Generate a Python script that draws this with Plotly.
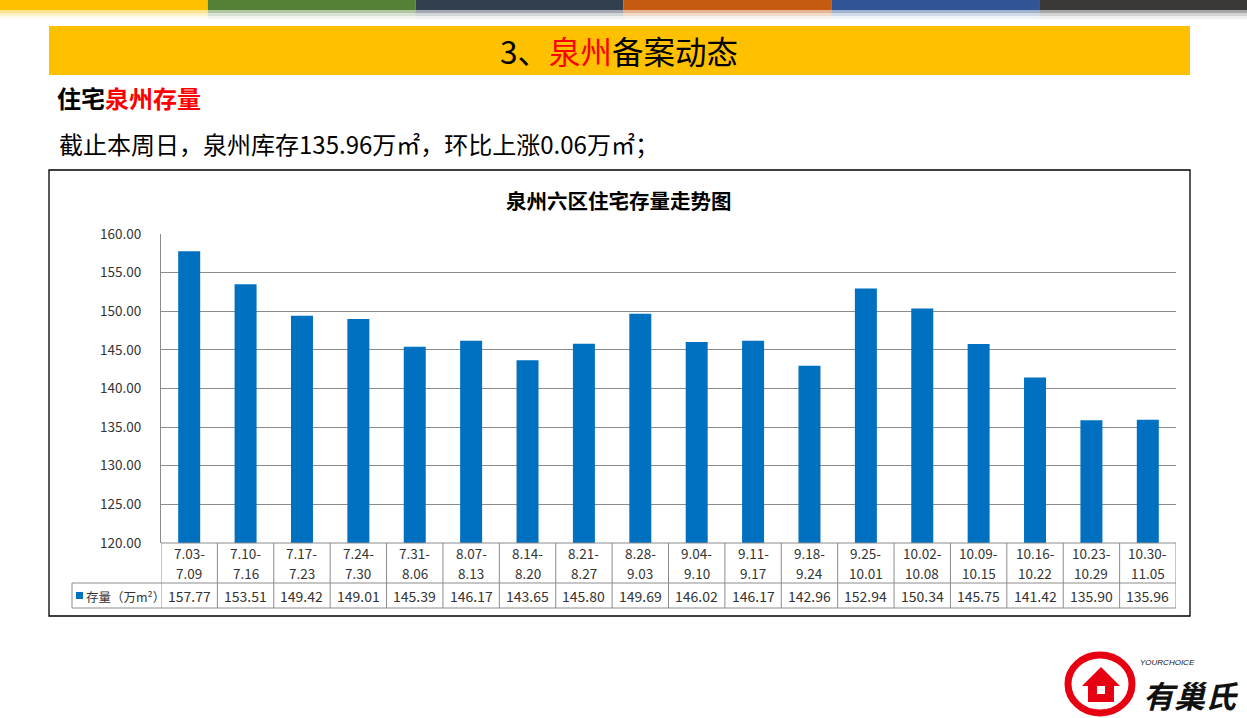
import plotly.graph_objects as go

W, H = 1247, 718

categories = ["7.03-7.09", "7.10-7.16", "7.17-7.23", "7.24-7.30", "7.31-8.06",
              "8.07-8.13", "8.14-8.20", "8.21-8.27", "8.28-9.03", "9.04-9.10",
              "9.11-9.17", "9.18-9.24", "9.25-10.01", "10.02-10.08", "10.09-10.15",
              "10.16-10.22", "10.23-10.29", "10.30-11.05"]
stock = [157.77, 153.51, 149.42, 149.01, 145.39, 146.17, 143.65, 145.80, 149.69, 146.02,
         146.17, 142.96, 152.94, 150.34, 145.75, 141.42, 135.90, 135.96]
y_ticks = [120, 125, 130, 135, 140, 145, 150, 155, 160]
strip_colors = ["#FFC000", "#538135", "#323F4F", "#C55A11", "#2F5597", "#3B3838"]

CJK = "Noto Sans CJK SC"
NUM = "Noto Sans CJK SC"


def px(x):
    return x / W


def py(y):
    return 1 - y / H


PL, PR, PT, PB = 161, 1176, 234, 543
ROW1, ROW2 = 583, 608
LEG_L = 72

fig = go.Figure()
fig.add_trace(go.Bar(
    x=list(range(len(categories))), y=stock,
    marker=dict(color="#0070C0", line=dict(width=0)),
    width=0.39, hoverinfo="y", showlegend=False,
))

shapes = []
annotations = []

# top strip
seg = W / len(strip_colors)
for i, c in enumerate(strip_colors):
    shapes.append(dict(type="rect", xref="paper", yref="paper", x0=px(i * seg), x1=px((i + 1) * seg),
                       y0=py(10), y1=py(0), fillcolor=c, line=dict(width=0), layer="above"))
    for a, b, op in [(10, 13, 0.45), (13, 16, 0.22), (16, 19, 0.08)]:
        shapes.append(dict(type="rect", xref="paper", yref="paper", x0=px(i * seg), x1=px((i + 1) * seg),
                           y0=py(b), y1=py(a), fillcolor=c, opacity=op, line=dict(width=0), layer="above"))

# yellow banner
shapes.append(dict(type="rect", xref="paper", yref="paper", x0=px(49), x1=px(1190), y0=py(75), y1=py(26),
                   fillcolor="#FFC000", line=dict(width=0), layer="below"))
annotations.append(dict(xref="paper", yref="paper", x=px(619), y=py(50), xanchor="center", yanchor="middle",
                        text="3、<span style='color:#FF0000'>泉州</span>备案动态", showarrow=False,
                        font=dict(family=CJK, size=31.5, color="#000000")))
annotations.append(dict(xref="paper", yref="paper", x=px(55), y=py(98), xanchor="left", yanchor="middle",
                        text="<b>住宅<span style='color:#FF0000'>泉州存量</span></b>", showarrow=False,
                        font=dict(family=CJK, size=24, color="#000000")))
annotations.append(dict(xref="paper", yref="paper", x=px(57), y=py(143), xanchor="left", yanchor="middle",
                        text="截止本周日，泉州库存135.96万㎡，环比上涨0.06万㎡；", showarrow=False,
                        font=dict(family=CJK, size=24, color="#000000")))

# chart box
shapes.append(dict(type="rect", xref="paper", yref="paper", x0=px(49), x1=px(1190), y0=py(616), y1=py(170),
                   line=dict(color="#000000", width=1.3), fillcolor="rgba(0,0,0,0)", layer="above"))
annotations.append(dict(xref="paper", yref="paper", x=px(619), y=py(200), xanchor="center", yanchor="middle",
                        text="<b>泉州六区住宅存量走势图</b>", showarrow=False,
                        font=dict(family=CJK, size=20.5, color="#000000")))

# table grid
GRID = "#8C8C8C"
n = len(categories)
shapes.append(dict(type="line", xref="paper", yref="paper", x0=px(PL), x1=px(PR), y0=py(PB), y1=py(PB),
                   line=dict(color=GRID, width=1), layer="above"))
for yy in (ROW1, ROW2):
    shapes.append(dict(type="line", xref="paper", yref="paper", x0=px(LEG_L), x1=px(PR), y0=py(yy), y1=py(yy),
                       line=dict(color=GRID, width=1), layer="above"))
shapes.append(dict(type="line", xref="paper", yref="paper", x0=px(LEG_L), x1=px(LEG_L), y0=py(ROW2), y1=py(ROW1),
                   line=dict(color=GRID, width=1), layer="above"))
for i in range(n + 1):
    shapes.append(dict(type="line", xref="x", yref="paper", x0=i - 0.5, x1=i - 0.5, y0=py(ROW2), y1=py(PB),
                       line=dict(color=GRID, width=1), layer="above"))
for i, (c, v) in enumerate(zip(categories, stock)):
    top, bottom = c.split("-")
    annotations.append(dict(xref="x", yref="paper", x=i, y=py(553), xanchor="center", yanchor="middle",
                            text=top + "-", showarrow=False, font=dict(family=NUM, size=13.5, color="#333333")))
    annotations.append(dict(xref="x", yref="paper", x=i, y=py(573), xanchor="center", yanchor="middle",
                            text=bottom, showarrow=False, font=dict(family=NUM, size=13.5, color="#333333")))
    annotations.append(dict(xref="x", yref="paper", x=i, y=py((ROW1 + ROW2) / 2), xanchor="center",
                            yanchor="middle", text=f"{v:.2f}", showarrow=False,
                            font=dict(family=NUM, size=14, color="#333333")))
# legend key in table
shapes.append(dict(type="rect", xref="paper", yref="paper", x0=px(76), x1=px(83), y0=py(599), y1=py(592),
                   fillcolor="#0070C0", line=dict(width=0), layer="above"))
annotations.append(dict(xref="paper", yref="paper", x=px(84), y=py(596), xanchor="left", yanchor="middle",
                        text="存量（万m²）", showarrow=False, font=dict(family=CJK, size=12.5, color="#333333")))

# logo
shapes.append(dict(type="circle", xref="paper", yref="paper", x0=px(1068), x1=px(1132), y0=py(713), y1=py(655),
                   line=dict(color="#E60012", width=7), fillcolor="rgba(0,0,0,0)", layer="above"))
shapes.append(dict(type="path", xref="paper", yref="paper",
                   path=f"M {px(1082)},{py(686)} L {px(1101)},{py(667)} L {px(1120)},{py(686)} "
                        f"L {px(1114)},{py(686)} L {px(1114)},{py(702)} L {px(1088)},{py(702)} "
                        f"L {px(1088)},{py(686)} Z",
                   fillcolor="#E60012", line=dict(width=0), layer="above"))
shapes.append(dict(type="rect", xref="paper", yref="paper", x0=px(1097), x1=px(1105), y0=py(694), y1=py(686),
                   fillcolor="#FFFFFF", line=dict(width=0), layer="above"))
annotations.append(dict(xref="paper", yref="paper", x=px(1241), y=py(694), xanchor="right", yanchor="middle",
                        text="<b><i>有巢氏</i></b>", showarrow=False,
                        font=dict(family=CJK, size=31, color="#111111")))
annotations.append(dict(xref="paper", yref="paper", x=px(1138), y=py(662), xanchor="left", yanchor="middle",
                        text="<i>YOURCHOICE</i>", showarrow=False,
                        font=dict(family="Liberation Sans", size=8, color="#111111")))

fig.update_layout(
    width=W, height=H,
    margin=dict(l=0, r=0, t=0, b=0, pad=0, autoexpand=False),
    paper_bgcolor="#FFFFFF", plot_bgcolor="#FFFFFF",
    bargap=0.6,
    shapes=shapes, annotations=annotations,
    xaxis=dict(domain=[px(PL), px(PR)], range=[-0.5, n - 0.5], showticklabels=False, showgrid=False,
               zeroline=False, showline=False, ticks="", fixedrange=True, automargin=False),
    yaxis=dict(domain=[py(PB), py(PT)], range=[120, 160], tickvals=y_ticks, tickformat=".2f",
               showgrid=True, gridcolor=GRID, gridwidth=1, zeroline=False,
               showline=True, linecolor=GRID, linewidth=1, ticks="", ticklabelstandoff=16,
               tickfont=dict(family=NUM, size=13.5, color="#333333"), fixedrange=True, automargin=False),
)

fig.write_html("out.html", config={"displayModeBar": False},
               post_script="document.body.style.margin='0';document.body.style.overflow='hidden';")
